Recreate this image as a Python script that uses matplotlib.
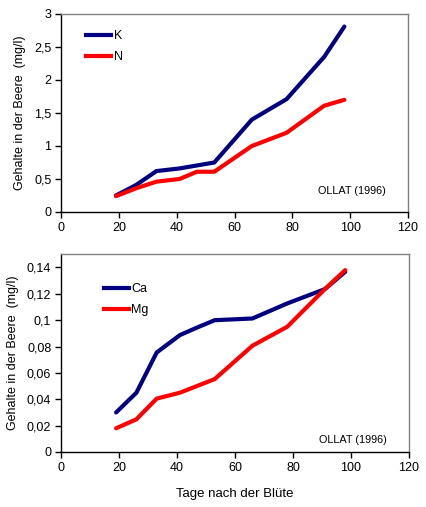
import matplotlib
matplotlib.use("Agg")
import matplotlib.pyplot as plt
from matplotlib.ticker import FuncFormatter, MultipleLocator
from matplotlib.lines import Line2D

plt.rcParams['font.family'] = ['Liberation Sans', 'DejaVu Sans']

# Data
days_K = [19, 26, 33, 41, 53, 66, 78, 91, 98]
K = [0.25, 0.41, 0.62, 0.66, 0.75, 1.40, 1.71, 2.35, 2.81]
days_N = [19, 26, 33, 41, 47, 53, 66, 78, 91, 98]
N = [0.24, 0.36, 0.46, 0.50, 0.61, 0.61, 1.00, 1.20, 1.61, 1.70]

days_Ca = [19, 26, 33, 41, 47, 53, 66, 78, 91, 98]
Ca = [0.030, 0.045, 0.0755, 0.0887, 0.0945, 0.100, 0.1013, 0.1127, 0.1236, 0.1367]
days_Mg = [19, 26, 33, 41, 53, 66, 78, 91, 98]
Mg = [0.018, 0.0248, 0.0405, 0.045, 0.0553, 0.0806, 0.095, 0.1236, 0.138]

navy = '#000080'
red = '#ff0000'

fig = plt.figure(figsize=(4.26, 5.07), dpi=100)
ax1 = fig.add_axes([61/426, 1-212/507, (408-61)/426, (212-14)/507])
ax2 = fig.add_axes([61/426, 1-452/507, (409-61)/426, (452-254.3)/507])

def comma(v, p):
    s = ('%g' % round(v, 6))
    return s.replace('.', ',')

for ax in (ax1, ax2):
    ax.set_xlim(0, 120)
    ax.xaxis.set_major_locator(MultipleLocator(20))
    ax.spines['top'].set_color('#808080')
    ax.spines['right'].set_color('#808080')
    ax.spines['left'].set_color('black')
    ax.spines['bottom'].set_color('black')
    for s in ax.spines.values():
        s.set_linewidth(1.0)
    ax.tick_params(direction='out', length=4, width=1, labelsize=9, pad=3, colors='black')
    ax.yaxis.set_major_formatter(FuncFormatter(comma))

ax1.plot(days_K, K, color=navy, lw=3, solid_joinstyle='round', solid_capstyle='round')
ax1.plot(days_N, N, color=red, lw=3, solid_joinstyle='round', solid_capstyle='round')
ax1.set_ylim(0, 3)
ax1.yaxis.set_major_locator(MultipleLocator(0.5))
ax1.set_ylabel('Gehalte in der Beere  (mg/l)', fontsize=9, labelpad=6)
ax1.text(0.935, 0.105, 'OLLAT (1996)', transform=ax1.transAxes, ha='right', va='center', fontsize=7.8)

ax2.plot(days_Ca, Ca, color=navy, lw=3, solid_joinstyle='round', solid_capstyle='round')
ax2.plot(days_Mg, Mg, color=red, lw=3, solid_joinstyle='round', solid_capstyle='round')
ax2.set_ylim(0, 0.15)
ax2.set_yticks([0, 0.02, 0.04, 0.06, 0.08, 0.10, 0.12, 0.14])
ax2.set_ylabel('Gehalte in der Beere  (mg/l)', fontsize=9, labelpad=6)
ax2.set_xlabel('Tage nach der Blüte', fontsize=9.5, labelpad=10)
ax2.text(0.935, 0.06, 'OLLAT (1996)', transform=ax2.transAxes, ha='right', va='center', fontsize=7.8)

leg_kw = dict(frameon=False, fontsize=9, handlelength=2.0, handletextpad=0.2, labelspacing=0.7)
ax1.legend([Line2D([], [], color=navy, lw=3), Line2D([], [], color=red, lw=3)], ['K', 'N'],
           loc='upper left', bbox_to_anchor=(0.04, 0.975), **leg_kw)
ax2.legend([Line2D([], [], color=navy, lw=3), Line2D([], [], color=red, lw=3)], ['Ca', 'Mg'],
           loc='upper left', bbox_to_anchor=(0.09, 0.91), **leg_kw)

fig.savefig('out.png', dpi=100)
